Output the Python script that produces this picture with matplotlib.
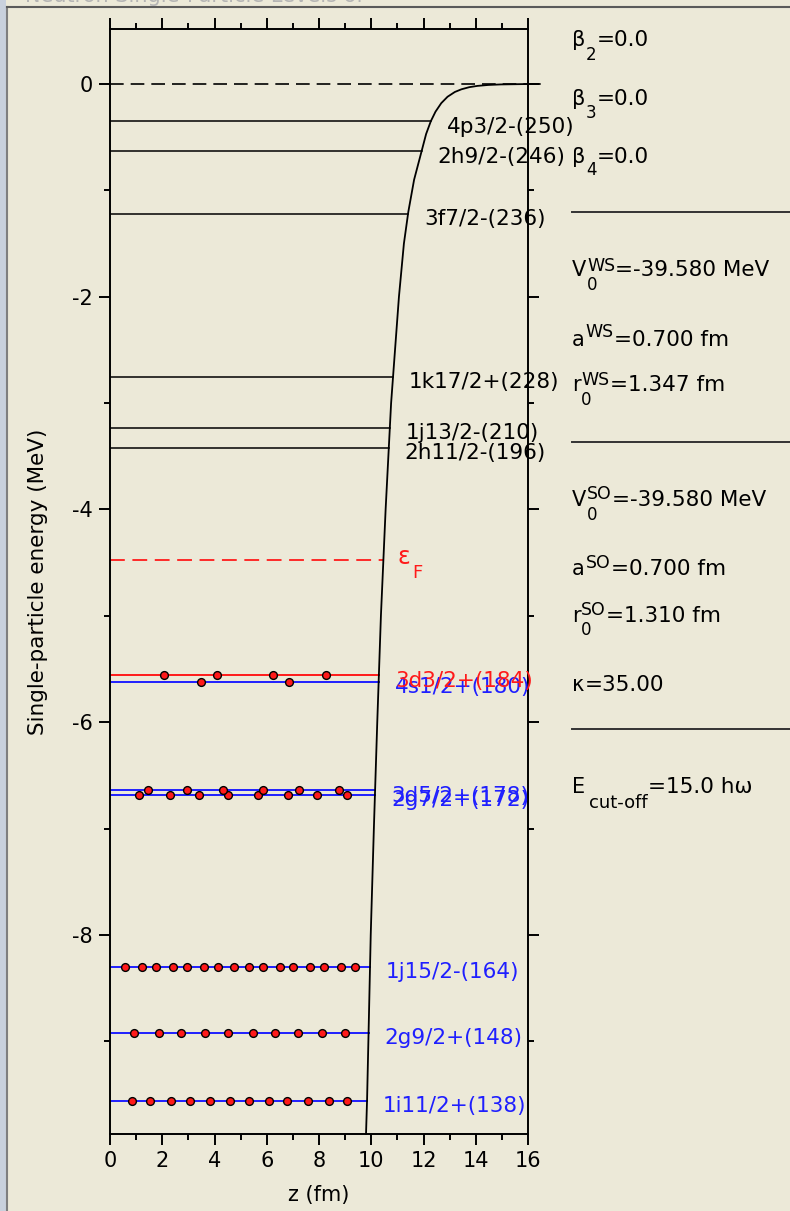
import matplotlib
matplotlib.use('Agg')
import matplotlib.pyplot as plt
from matplotlib.ticker import MultipleLocator
from matplotlib.patches import Rectangle
import numpy as np

plt.rcParams['font.family'] = ['DejaVu Sans']
plt.rcParams['axes.unicode_minus'] = False

BG = '#ECE9D8'
BLUE = '#1f1fff'
RED = '#ff1a1a'

# potential wall (z in fm, V in MeV)
wall_z = [9.80, 9.84, 9.89, 9.98, 10.10, 10.23, 10.37, 10.55, 10.76, 11.06, 11.25,
          11.42, 11.64, 11.94, 12.10, 12.28, 12.46, 12.68, 12.92, 13.20, 13.45,
          13.75, 14.06, 14.48, 14.96, 15.80, 16.45]
wall_v = [-9.87, -9.55, -9.0, -8.0, -7.0, -6.0, -5.0, -4.0, -3.0, -2.0, -1.5,
          -1.2, -0.9, -0.62, -0.47, -0.35, -0.26, -0.18, -0.12, -0.075, -0.05,
          -0.03, -0.018, -0.009, -0.004, -0.001, 0.0]

# single-particle levels
level_names = ['1i11/2+(138)', '2g9/2+(148)', '1j15/2-(164)', '2g7/2+(172)',
               '3d5/2+(178)', '4s1/2+(180)', '3d3/2+(184)', '2h11/2-(196)',
               '1j13/2-(210)', '1k17/2+(228)', '3f7/2-(236)', '2h9/2-(246)',
               '4p3/2-(250)']
level_e = [-9.56, -8.92, -8.30, -6.68, -6.64, -5.62, -5.56, -3.42, -3.23,
           -2.75, -1.22, -0.63, -0.35]
level_colors = [BLUE, BLUE, BLUE, BLUE, BLUE, BLUE, RED, 'black', 'black',
                'black', 'black', 'black', 'black']

fermi_e = -4.475

# occupied states drawn as dots along each level (z positions)
level_dots = {
    '1i11/2+(138)': [0.83, 1.53, 2.34, 3.05, 3.83, 4.61, 5.32, 6.10, 6.79, 7.57, 8.37, 9.08],
    '2g9/2+(148)': [0.92, 1.86, 2.72, 3.65, 4.53, 5.47, 6.32, 7.20, 8.13, 9.00],
    '1j15/2-(164)': [0.57, 1.22, 1.76, 2.41, 2.94, 3.58, 4.12, 4.76, 5.32, 5.85,
                     6.49, 7.02, 7.66, 8.20, 8.84, 9.38],
    '2g7/2+(172)': [1.12, 2.30, 3.41, 4.50, 5.68, 6.80, 7.91, 9.06],
    '3d5/2+(178)': [1.47, 2.93, 4.33, 5.84, 7.24, 8.75],
    '4s1/2+(180)': [3.50, 6.86],
    '3d3/2+(184)': [2.08, 4.11, 6.23, 8.28],
}

W, H = 790, 1211
fig = plt.figure(figsize=(W / 100, H / 100), dpi=100, facecolor=BG)
ax = fig.add_axes([110 / W, 1 - 1134 / H, 418 / W, 1105 / H])
ax.set_facecolor(BG)
ax.set_xlim(0, 16)
ax.set_ylim(-9.871, 0.517)

# zero line and wall
ax.plot([0, 16], [0, 0], color='black', lw=1.2, dashes=(8.2, 4.2))
ax.plot(wall_z, wall_v, color='black', lw=1.3, clip_on=False, zorder=3)

# levels
for name, e, col in zip(level_names, level_e, level_colors):
    z_end = np.interp(e, wall_v, wall_z)
    lw = 1.1 if col == 'black' else 1.4
    ax.plot([0, z_end], [e, e], color=col, lw=lw, zorder=2)
    ax.annotate(name, xy=(z_end, e), xytext=(11.5, -4), textcoords='offset points',
                color=col, fontsize=15.5, va='center', ha='left', annotation_clip=False)
    if name in level_dots:
        zs = level_dots[name]
        ax.plot(zs, [e] * len(zs), 'o', color=RED, mec='black', mew=1.0, ms=5.6, zorder=4)

# Fermi level
zf = np.interp(fermi_e, wall_v, wall_z)
ax.plot([0, zf], [fermi_e, fermi_e], color=RED, lw=1.3, dashes=(8.2, 4.2))
ax.annotate('ε', xy=(zf, fermi_e), xytext=(10.4, -3), textcoords='offset points',
            color=RED, fontsize=17, va='baseline', ha='left')
ax.annotate('F', xy=(zf, fermi_e), xytext=(20.5, -13), textcoords='offset points',
            color=RED, fontsize=13, va='baseline', ha='left')

# axes styling
ax.xaxis.set_major_locator(MultipleLocator(2))
ax.xaxis.set_minor_locator(MultipleLocator(1))
ax.yaxis.set_major_locator(MultipleLocator(2))
ax.yaxis.set_minor_locator(MultipleLocator(1))
ax.tick_params(which='both', direction='out', top=True, right=True,
               labeltop=False, labelright=False, width=1.4, colors='black')
ax.tick_params(which='major', length=7.9, labelsize=15, pad=4.5)
ax.tick_params(which='minor', length=4.5)
for sp in ax.spines.values():
    sp.set_linewidth(1.4)

ax.set_xlabel('z (fm)', fontsize=15, va='center')
ax.xaxis.set_label_coords(0.5, (1134 - 1195) / 1105)
ax.set_ylabel('Single-particle energy (MeV)', fontsize=15.5, va='center')
ax.yaxis.set_label_coords((38 - 110) / 418, 0.5)

# overlay in pixel coordinates for the window frame and parameter panel
side = fig.add_axes([0, 0, 1, 1], zorder=5)
side.set_xlim(0, W)
side.set_ylim(H, 0)
side.axis('off')

side.add_patch(Rectangle((0, 0), 5.5, H, facecolor='#c9d1dd', edgecolor='none'))
side.plot([6.5, 6.5], [6.5, H], color='#7f7f7f', lw=1.5)
side.plot([6.5, W], [6.5, 6.5], color='#5a5a5a', lw=1.5)
side.text(25, 1.5, 'Neutron Single-Particle Levels of', color='#b5b5b5',
          fontsize=15, va='baseline', ha='left', clip_on=False)


def panel_entry(y_base, base, value, sup=None, sub=None, sup_y=None, sub_y=None,
                sub_size=12, sub_gap=0.5):
    t = side.text(572, y_base, base, fontsize=15, va='baseline', ha='left')
    last = t
    if sub:
        s = side.annotate(sub, xy=(1, sub_y), xycoords=(t, 'data'), xytext=(sub_gap, 0),
                          textcoords='offset points', fontsize=sub_size,
                          va='baseline', ha='left')
        last = s
    if sup:
        p = side.annotate(sup, xy=(1, sup_y), xycoords=(t, 'data'), xytext=(0.5, 0),
                          textcoords='offset points', fontsize=12.5,
                          va='baseline', ha='left')
        last = p
    side.annotate(value, xy=(1, y_base), xycoords=(last, 'data'), xytext=(0.3, 0),
                  textcoords='offset points', fontsize=15.5, va='baseline', ha='left')


panel_entry(46.5, 'β', '=0.0', sub='2', sub_y=60)
panel_entry(105, 'β', '=0.0', sub='3', sub_y=118)
panel_entry(163, 'β', '=0.0', sub='4', sub_y=175)
side.plot([572, W], [212, 212], color='#333333', lw=1.4)

panel_entry(276, 'V', '=-39.580 MeV', sup='WS', sub='0', sup_y=271, sub_y=290)
panel_entry(346, 'a', '=0.700 fm', sup='WS', sup_y=337)
panel_entry(391, 'r', '=1.347 fm', sup='WS', sub='0', sup_y=385, sub_y=405)
side.plot([572, W], [442, 442], color='#333333', lw=1.4)

panel_entry(506, 'V', '=-39.580 MeV', sup='SO', sub='0', sup_y=499, sub_y=520)
panel_entry(575, 'a', '=0.700 fm', sup='SO', sup_y=568)
panel_entry(622, 'r', '=1.310 fm', sup='SO', sub='0', sup_y=615, sub_y=635)
panel_entry(691, 'κ', '=35.00')
side.plot([572, W], [729, 729], color='#333333', lw=1.4)

panel_entry(793, 'E', '=15.0 hω', sub='cut-off', sub_y=808, sub_size=13, sub_gap=3)

fig.savefig('out.png', dpi=100, facecolor=BG)
